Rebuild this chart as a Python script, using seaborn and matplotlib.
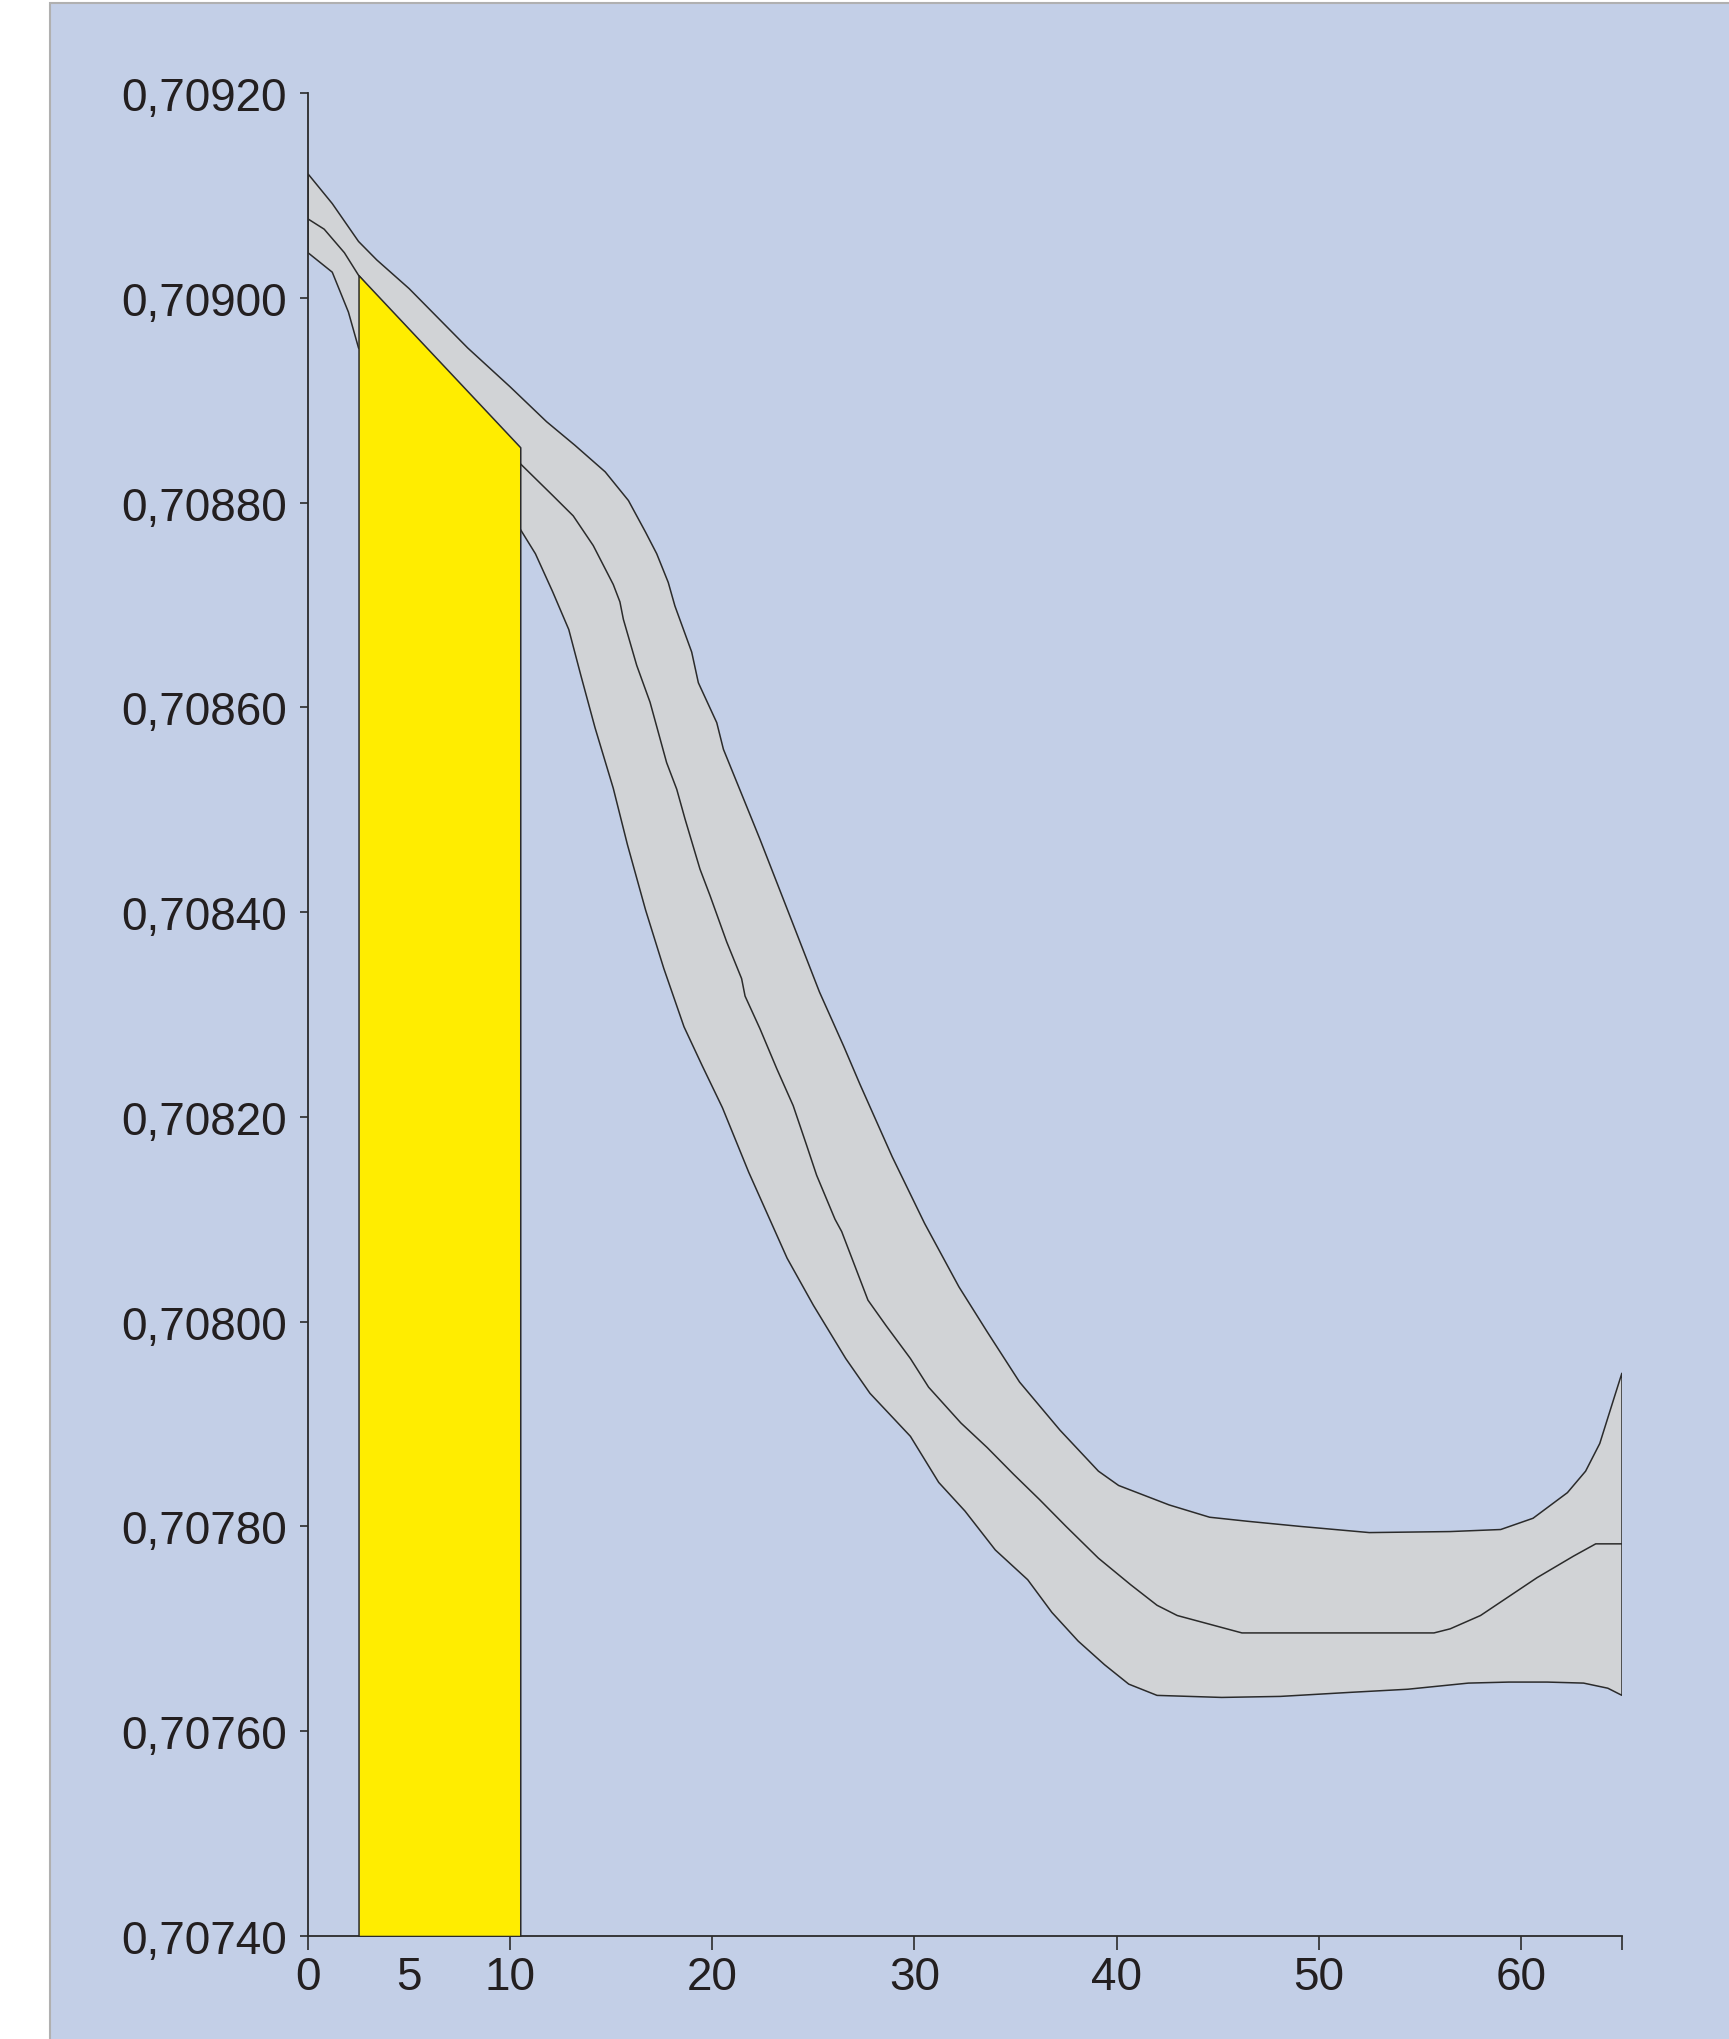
import matplotlib
matplotlib.use("Agg")
import numpy as np
import matplotlib.pyplot as plt
from matplotlib.patches import Rectangle
import seaborn as sns

# upper envelope of the band
x_up = [0, 1.2, 2.5, 3.4, 5.0, 6.3, 7.9, 10.0, 11.8, 13.2, 14.7, 15.85, 16.7, 17.25,
        17.82, 18.15, 18.98, 19.31, 20.22, 20.55, 21.95, 22.36, 24.0, 25.3, 26.5,
        27.3, 28.9, 30.5, 32.2, 33.6, 35.2, 37.2, 39.1, 40.1, 42.6, 44.6, 46.5,
        49.1, 52.5, 56.5, 59.0, 60.6, 62.3, 63.2, 63.9, 64.6, 65.0]
y_up = [0.709121, 0.709092, 0.709055, 0.709037, 0.709009, 0.708983, 0.708951,
        0.708913, 0.708879, 0.708856, 0.708830, 0.708802, 0.708771, 0.708750,
        0.708722, 0.708699, 0.708654, 0.708624, 0.708585, 0.708559, 0.708491,
        0.708471, 0.708388, 0.708322, 0.708269, 0.708232, 0.708161, 0.708096,
        0.708034, 0.707990, 0.707941, 0.707894, 0.707854, 0.707840, 0.707821,
        0.707809, 0.707805, 0.707800, 0.707794, 0.707795, 0.707797, 0.707808,
        0.707833, 0.707854, 0.707881, 0.707925, 0.707950]

# central curve
x_mid = [0, 0.8, 1.8, 2.5, 10.5, 12.1, 13.12, 14.11, 15.1, 15.43, 15.6, 16.26,
         16.92, 17.74, 18.24, 18.65, 19.39, 19.89, 20.71, 21.45, 21.62, 22.36,
         23.19, 24.0, 24.67, 25.16, 26.07, 26.4, 27.7, 28.6, 29.8, 30.7, 32.3,
         33.6, 34.9, 36.2, 37.5, 39.1, 40.7, 42.0, 43.0, 46.2, 55.7, 56.5, 58.0,
         60.8, 62.6, 63.7, 65.0]
y_mid = [0.709077, 0.709067, 0.709044, 0.709022, 0.708838, 0.708807, 0.708787,
         0.708758, 0.708720, 0.708703, 0.708686, 0.708641, 0.708605, 0.708546,
         0.708520, 0.708491, 0.708442, 0.708416, 0.708371, 0.708335, 0.708318,
         0.708286, 0.708247, 0.708211, 0.708172, 0.708143, 0.708100, 0.708088,
         0.708021, 0.707996, 0.707964, 0.707936, 0.707901, 0.707877, 0.707851,
         0.707826, 0.707800, 0.707769, 0.707743, 0.707723, 0.707713, 0.707696,
         0.707696, 0.707700, 0.707713, 0.707750, 0.707771, 0.707783, 0.707783]

# lower envelope of the band
x_low = [0, 1.2, 2.0, 2.5, 10.5, 11.25, 12.1, 12.9, 13.5, 14.2, 15.1, 15.8, 16.7,
         17.6, 18.6, 19.5, 20.5, 21.8, 23.7, 25.0, 26.6, 27.8, 29.8, 31.2, 32.5,
         34.0, 35.6, 36.8, 38.1, 39.4, 40.6, 42.0, 45.2, 48.1, 51.6, 54.4, 57.4,
         59.4, 61.3, 63.1, 64.3, 65.0]
y_low = [0.709044, 0.709025, 0.708986, 0.708951, 0.708774, 0.708750, 0.708713,
         0.708676, 0.708631, 0.708580, 0.708521, 0.708466, 0.708402, 0.708345,
         0.708288, 0.708250, 0.708209, 0.708146, 0.708062, 0.708016, 0.707964,
         0.707930, 0.707888, 0.707843, 0.707815, 0.707777, 0.707748, 0.707716,
         0.707688, 0.707665, 0.707646, 0.707635, 0.707633, 0.707634, 0.707638,
         0.707641, 0.707647, 0.707648, 0.707648, 0.707647, 0.707642, 0.707635]

# highlighted interval
x_hl = [2.5, 10.5]
y_hl_top = [0.709022, 0.708854]

x_ticks = [0, 5, 10, 20, 30, 40, 50, 60, 65]
x_labels = ["0", "5", "10", "20", "30", "40", "50", "60", ""]
y_ticks = [0.7074, 0.7076, 0.7078, 0.7080, 0.7082, 0.7084, 0.7086, 0.7088, 0.7090, 0.7092]

PANEL = "#c3cfe7"
BAND = "#d1d3d6"
YELLOW = "#ffed00"
LINE = "#2b2b2b"
TEXT = "#231f20"

sns.set_theme(style="ticks")
plt.rcParams["font.family"] = ["Liberation Sans", "DejaVu Sans"]

fig = plt.figure(figsize=(17.29, 20.40), dpi=100, facecolor="white")
fig.patches.append(Rectangle((50 / 1729, -0.01), 1.0, 1 - 4 / 2040 + 0.01,
                             transform=fig.transFigure, facecolor=PANEL,
                             edgecolor="#b0b0b0", linewidth=1.5, zorder=-5))

ax = fig.add_axes([308 / 1729, 103 / 2040, 1314 / 1729, 1843 / 2040])
ax.set_facecolor("none")
ax.set_zorder(1)

# grey band between envelopes
ax.fill(np.r_[x_up, x_low[::-1]], np.r_[y_up, y_low[::-1]],
        facecolor=BAND, edgecolor=LINE, linewidth=1.1, zorder=1)

sns.lineplot(x=x_mid, y=y_mid, ax=ax, color=LINE, linewidth=1.1,
             sort=False, estimator=None, zorder=2)

ax.fill_between(x_hl, [y_ticks[0]] * 2, y_hl_top, facecolor=YELLOW,
                edgecolor=LINE, linewidth=1.1, zorder=3)

ax.set_xlim(0, 65)
ax.set_ylim(y_ticks[0], y_ticks[-1])
ax.set_xticks(x_ticks)
ax.set_xticklabels(x_labels)
ax.set_yticks(y_ticks)
ax.set_yticklabels([f"{v:.5f}".replace(".", ",") for v in y_ticks])
ax.xaxis.get_major_ticks()[1].tick1line.set_visible(False)

for side in ["top", "right"]:
    ax.spines[side].set_visible(False)
for side in ["left", "bottom"]:
    ax.spines[side].set_color(LINE)
    ax.spines[side].set_linewidth(1.3)

ax.tick_params(axis="y", direction="out", length=6, width=1.2, color=LINE,
               pad=9, labelsize=33, labelcolor=TEXT)
ax.tick_params(axis="x", direction="out", length=10, width=1.2, color=LINE,
               pad=4, labelsize=33, labelcolor=TEXT)
ax.set_xlabel("")
ax.set_ylabel("")

fig.savefig("out.png", dpi=100, facecolor="white")
